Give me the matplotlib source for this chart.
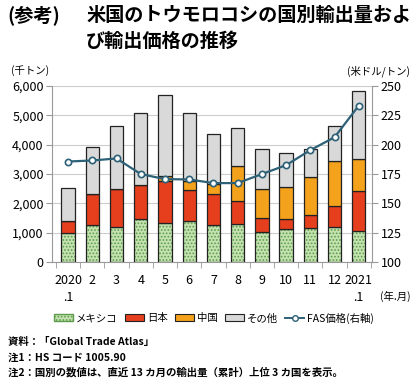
import numpy as np
import matplotlib
matplotlib.use('Agg')
import matplotlib.pyplot as plt
from matplotlib.patches import Patch
from matplotlib.lines import Line2D
from matplotlib.ticker import FuncFormatter

plt.rcParams['font.family'] = ['Noto Sans CJK JP', 'DejaVu Sans']

# data (thousand tonnes / US$ per tonne), 2020.1 - 2021.1
months = ['2020\n.1', '2', '3', '4', '5', '6', '7', '8', '9', '10', '11', '12', '2021\n.1']
mexico = [1000, 1250, 1190, 1470, 1330, 1380, 1250, 1280, 1030, 1120, 1150, 1190, 1070]
japan = [400, 1070, 1310, 1160, 1440, 1080, 1060, 790, 480, 350, 450, 730, 1360]
china = [0, 0, 0, 0, 170, 310, 340, 1210, 960, 1080, 1310, 1520, 1080]
total = [2520, 3910, 4640, 5080, 5710, 5070, 4370, 4560, 3840, 3720, 3840, 4630, 5830]
fas_price = [185.6, 186.5, 188.2, 174.9, 170.6, 170.3, 167.2, 167.2, 174.9, 182.5, 195.3, 206.3, 233.3]

mexico = np.array(mexico)
japan = np.array(japan)
china = np.array(china)
other = np.array(total) - mexico - japan - china

green_face = '#c4e2b0'
green_dot = '#5c9c4c'
red = '#e63f1e'
orange = '#f4a21c'
gray = '#d9d9d9'
line_col = '#2d6177'

fig = plt.figure(figsize=(4.2, 3.84), dpi=100)
ax = fig.add_axes([0.124, 0.318, 0.762, 0.458])
x = np.arange(len(months))
w = 0.55

plt.rcParams['hatch.linewidth'] = 0.8
ax.bar(x, mexico, w, color=green_face, hatch='.....', edgecolor=green_dot, lw=0, zorder=2)
ax.bar(x, mexico, w, fill=False, edgecolor='#222222', lw=0.9, zorder=3)
ax.bar(x, japan, w, bottom=mexico, color=red, edgecolor='#222222', lw=0.9, zorder=3)
ax.bar(x, china, w, bottom=mexico + japan, color=orange, edgecolor='#222222', lw=0.9, zorder=3)
ax.bar(x, other, w, bottom=mexico + japan + china, color=gray, edgecolor='#222222', lw=0.9, zorder=3)

ax.set_ylim(0, 6000)
ax.set_yticks(range(0, 6001, 1000))
ax.yaxis.set_major_formatter(FuncFormatter(lambda v, p: f'{int(v):,}'))
ax.set_xlim(-0.66, 12.55)
ax.set_xticks(x)
ax.set_xticklabels(months, fontsize=9, linespacing=1.35)
ax.set_xticks(np.arange(-0.5, 12.6, 1), minor=True)
ax.tick_params(axis='x', which='major', length=0, pad=9)
ax.tick_params(axis='x', which='minor', length=4, color='#999999')
ax.tick_params(axis='y', labelsize=9, length=4, color='#999999', pad=2)
ax.grid(axis='y', color='#cccccc', lw=0.8, zorder=0)
ax.set_axisbelow(True)
for s in ['top', 'right']:
    ax.spines[s].set_visible(False)
for s in ['left', 'bottom']:
    ax.spines[s].set_color('#999999')

ax2 = ax.twinx()
ax2.plot(x, fas_price, color=line_col, lw=1.6, marker='o', markersize=4.5,
         markerfacecolor='white', markeredgecolor=line_col, markeredgewidth=1.2, zorder=5)
ax2.set_ylim(100, 250)
ax2.set_yticks(range(100, 251, 25))
ax2.tick_params(axis='y', labelsize=9, length=4, color='#999999', pad=2)
for s in ['top', 'left', 'bottom']:
    ax2.spines[s].set_visible(False)
ax2.spines['right'].set_color('#999999')

# titles and unit labels
fig.text(0.018, 0.96, '(参考)', fontsize=13.8, fontweight='bold', va='center')
fig.text(0.205, 0.96, '米国のトウモロコシの国別輸出量およ', fontsize=13.8, fontweight='bold', va='center')
fig.text(0.205, 0.893, 'び輸出価格の推移', fontsize=13.8, fontweight='bold', va='center')
fig.text(0.025, 0.815, '(千トン)', fontsize=7.5, va='center')
fig.text(0.975, 0.815, '(米ドル/トン)', fontsize=7.5, va='center', ha='right')
fig.text(0.978, 0.228, '(年.月)', fontsize=7.5, va='center', ha='right')

handles = [
    Patch(facecolor=green_face, hatch='.....', edgecolor=green_dot),
    Patch(facecolor=red, edgecolor='#222222', lw=0.8),
    Patch(facecolor=orange, edgecolor='#222222', lw=0.8),
    Patch(facecolor=gray, edgecolor='#222222', lw=0.8),
    Line2D([], [], color=line_col, lw=1.4, marker='o', markersize=4,
           markerfacecolor='white', markeredgecolor=line_col),
]
labels = ['メキシコ', '日本', '中国', 'その他', 'FAS価格(右軸)']
fig.legend(handles, labels, loc='center', bbox_to_anchor=(0.51, 0.172), ncol=5,
           frameon=False, fontsize=7.5, handlelength=1.8, handleheight=0.6,
           handletextpad=0.3, columnspacing=0.7)

notes = ['資料：「Global Trade Atlas」',
         '注1：HS コード 1005.90',
         '注2：国別の数値は、直近 13 カ月の輸出量（累計）上位 3 カ国を表示。']
for i, t in enumerate(notes):
    fig.text(0.018, 0.109 - i * 0.04, t, fontsize=7.5, fontweight='bold', va='center')

fig.savefig('out.png', dpi=100)
